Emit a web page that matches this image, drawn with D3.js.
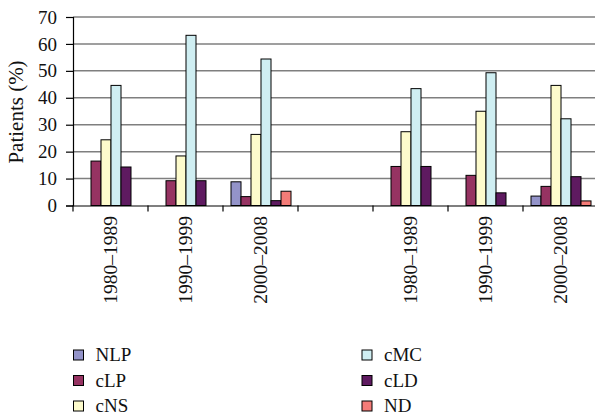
<!DOCTYPE html>
<html><head><meta charset="utf-8">
<script src="https://cdn.jsdelivr.net/npm/d3@7"></script>
<style>body{margin:0;background:#fff}svg{display:block}</style>
</head><body>
<svg id="c" width="595" height="417"></svg>
<script>
const categories = ["1980–1989","1990–1999","2000–2008","","1980–1989","1990–1999","2000–2008"];
const series = ["NLP","cLP","cNS","cMC","cLD","ND"];
const colors = ["#9393C9","#963362","#FDFBCC","#CFEEF2","#5E1A60","#F47C78"];
const NLP = [0, 0, 8.8, 0, 0, 0, 3.5];
const cLP = [16.5, 9.2, 3.3, 0, 14.5, 11.2, 7.1];
const cNS = [24.4, 18.4, 26.4, 0, 27.4, 35.0, 44.6];
const cMC = [44.6, 63.2, 54.4, 0, 43.4, 49.3, 32.2];
const cLD = [14.3, 9.2, 1.8, 0, 14.5, 4.7, 10.7];
const ND = [0, 0, 5.3, 0, 0, 0, 1.7];
const values = [NLP, cLP, cNS, cMC, cLD, ND];
const yTicks = [0,10,20,30,40,50,60,70];

const FONT = '"Liberation Serif"';
const svg = d3.select("#c");
const x0 = d3.scaleBand().domain(d3.range(categories.length)).range([73, 598]).padding(0);
const bw = x0.bandwidth();
const x1 = d3.scaleBand().domain(series).range([bw*0.1, bw*0.9]).padding(0);
const y = d3.scaleLinear().domain([0,70]).range([205.5, 17]);

// grid
svg.append("g").selectAll("line").data(yTicks.filter(d=>d>0)).join("line")
  .attr("x1", 73).attr("x2", 595).attr("y1", d=>y(d)).attr("y2", d=>y(d))
  .attr("stroke", "#7f7f7f").attr("stroke-width", 1.5);

// bars
const g = svg.append("g");
categories.forEach((c, i) => {
  series.forEach((s, j) => {
    const v = values[j][i];
    if (v > 0) {
      g.append("rect")
        .attr("x", x0(i) + x1(s) + 0.5)
        .attr("y", y(v))
        .attr("width", x1.bandwidth())
        .attr("height", y(0) - y(v))
        .attr("fill", colors[j]).attr("stroke", "#000").attr("stroke-width", 1);
    }
  });
});

// y axis
const ya = svg.append("g").attr("transform", "translate(73,0)")
  .call(d3.axisLeft(y).tickValues(yTicks).tickSize(7).tickPadding(9));
ya.select(".domain").attr("stroke", "#000").attr("stroke-width", 1.2);
ya.selectAll(".tick line").attr("stroke", "#000").attr("stroke-width", 1.2);
ya.selectAll("text").style("font-family", FONT).attr("font-size", 19).attr("fill", "#111");

// x axis
const xa = svg.append("g").attr("transform", `translate(0,${y(0)})`)
  .call(d3.axisBottom(x0).tickValues([]).tickSizeOuter(0));
xa.select(".domain").attr("stroke", "#000").attr("stroke-width", 1.2);
xa.selectAll(".tb").data(d3.range(categories.length + 1)).join("line")
  .attr("x1", i => 73 + i*bw).attr("x2", i => 73 + i*bw)
  .attr("y1", 0).attr("y2", 6).attr("stroke", "#000").attr("stroke-width", 1.2);
svg.append("g").selectAll("text").data(categories).join("text")
  .attr("transform", (d,i) => `translate(${x0(i) + bw/2 + 6.5},216) rotate(-90)`)
  .attr("text-anchor", "end")
  .style("font-family", FONT)
  .attr("font-size", 19.5).attr("fill", "#111")
  .text(d => d);

// y label
svg.append("text")
  .attr("transform", "translate(23,112) rotate(-90)")
  .attr("text-anchor", "middle")
  .style("font-family", FONT)
  .attr("font-size", 21).attr("fill", "#111")
  .text("Patients (%)");

// legend
const lg = svg.append("g");
series.forEach((s, j) => {
  const col = Math.floor(j / 3), row = j % 3;
  const lx = col === 0 ? 73.5 : 362, ly = 355 + row * 25.5;
  lg.append("rect").attr("x", lx).attr("y", ly - 5).attr("width", 10).attr("height", 10)
    .attr("fill", colors[j]).attr("stroke", "#000").attr("stroke-width", 1);
  lg.append("text").attr("x", lx + 22).attr("y", ly + 6)
    .style("font-family", FONT)
    .attr("font-size", 19).attr("fill", "#111").text(s);
});
</script>
</body></html>
